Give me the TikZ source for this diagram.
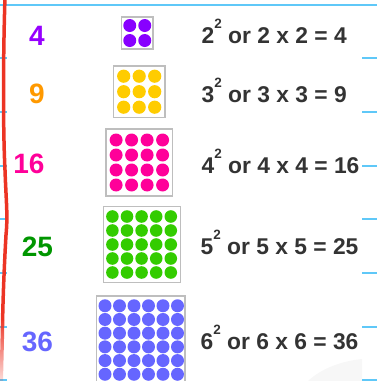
\documentclass[tikz,border=0pt]{standalone}
\usepackage{fontspec}
\setmainfont{Liberation Sans}
\usetikzlibrary{fadings}
\definecolor{linebl}{RGB}{95,200,248}
\definecolor{redln}{RGB}{236,52,36}
\definecolor{boxgray}{RGB}{190,190,190}
\definecolor{txtgray}{RGB}{51,51,51}
\definecolor{cpurp}{RGB}{136,0,255}
\definecolor{tpurp}{RGB}{150,0,255}
\definecolor{cyell}{RGB}{255,204,0}
\definecolor{torange}{RGB}{255,153,0}
\definecolor{cpink}{RGB}{255,0,153}
\definecolor{cgreen}{RGB}{51,204,0}
\definecolor{tgreen}{RGB}{0,150,0}
\definecolor{cviol}{RGB}{102,102,255}
\definecolor{paperg}{RGB}{247,247,247}
\tikzfading[name=fadedown, top color=transparent!0, bottom color=transparent!90]
\newcommand{\mysq}[1]{#1\raisebox{15pt}{\fontsize{13.5}{13.5}\selectfont 2}}
\begin{document}
\begin{tikzpicture}[x=1pt,y=-1pt,
  gridbox/.style={draw=boxgray, line width=1.2pt, inner sep=0pt},
  numlabel/.style={font=\fontsize{28}{28}\selectfont\bfseries, inner sep=0pt, anchor=base},
  eqlabel/.style={font=\fontsize{22.8}{22.8}\selectfont\bfseries, text=txtgray, inner sep=0pt, anchor=base west},
  blueline/.style={draw=linebl, line width=1.5pt},
  redline/.style={draw=redln, line width=3.5pt}]
\useasboundingbox (0,0) rectangle (377,381);
\clip (0,0) rectangle (377,381);
% faint paper shape
\fill[paperg] (308,381) .. controls (322,368) and (342,361) .. (362,359) -- (362,381) -- cycle;
% blue ruled lines
\draw[blueline] (0,5) -- (377,5);
\foreach \yy in {58,112,166,219,273,327,380} {
  \draw[blueline] (0,\yy) -- (7,\yy);
  \draw[blueline] (362,\yy) -- (377,\yy);
}
% red margin line
\draw[redline] (5,-3) .. controls (3,60) and (3,130) .. (5,170) .. controls (6,200) and (8,215) .. (6,235) .. controls (4,270) and (3,300) .. (2.6,320);
\draw[redline, path fading=fadedown] (2.6,320) .. controls (2.2,345) and (1.6,365) .. (1.2,384);
% boxes
\node[gridbox, minimum width=31.5pt, minimum height=32pt] (b1) at (137.25,33) {};
\node[gridbox, minimum width=51.7pt, minimum height=51.3pt] (b2) at (139.2,91.7) {};
\node[gridbox, minimum width=66.7pt, minimum height=67pt] (b3) at (139.35,162.5) {};
\node[gridbox, minimum width=77.4pt, minimum height=75.6pt] (b4) at (142,244.5) {};
\node[gridbox, minimum width=88.3pt, minimum height=88pt] (b5) at (140.85,340) {};
% dots
\foreach \i in {1,2} \foreach \j in {1,2}
  \fill[cpurp] ({137.25+(\i-1.5)*15},{33+(\j-1.5)*15}) circle (6.5);
\foreach \i in {1,2,3} \foreach \j in {1,2,3}
  \fill[cyell] ({139.2+(\i-2)*15.5},{91.7+(\j-2)*15.5}) circle (6.6);
\foreach \i in {1,...,4} \foreach \j in {1,...,4}
  \fill[cpink] ({139.35+(\i-2.5)*15.5},{162.5+(\j-2.5)*15}) circle (6.5);
\foreach \i in {1,...,5} \foreach \j in {1,...,5}
  \fill[cgreen] ({141.6+(\i-3)*14.6},{244.5+(\j-3)*14}) circle (6.3);
\foreach \i in {1,...,6} \foreach \j in {1,...,6}
  \fill[cviol] ({141.25+(\i-3.5)*14.5},{340+(\j-3.5)*13.7}) circle (6.5);
% left numbers
\node[numlabel, text=tpurp] (n1) at (37,45) {4};
\node[numlabel, text=torange] (n2) at (37,103) {9};
\node[numlabel, text=cpink] (n3) at (29,173) {16};
\node[numlabel, text=tgreen] (n4) at (37.5,256.5) {25};
\node[numlabel, text=cviol] (n5) at (37.5,351) {36};
% equations
\node[eqlabel] (e1) at (201.5,43) {\mysq{2} or 2 x 2 = 4};
\node[eqlabel] (e2) at (201.5,102) {\mysq{3} or 3 x 3 = 9};
\node[eqlabel] (e3) at (201.5,173) {\mysq{4} or 4 x 4 = 16};
\node[eqlabel] (e4) at (200.5,254.5) {\mysq{5} or 5 x 5 = 25};
\node[eqlabel] (e5) at (200.5,349) {\mysq{6} or 6 x 6 = 36};
\end{tikzpicture}
\end{document}
